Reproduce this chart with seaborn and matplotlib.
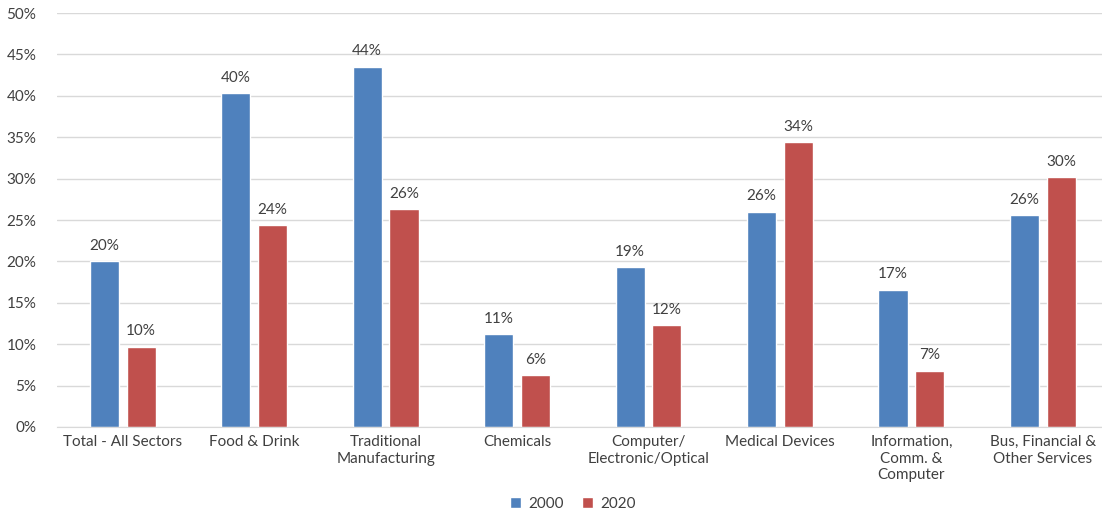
import matplotlib
matplotlib.use("Agg")
import matplotlib.pyplot as plt
import seaborn as sns
import pandas as pd
from matplotlib.ticker import PercentFormatter
from matplotlib.patches import Patch

categories = ["Total - All Sectors", "Food & Drink", "Traditional\nManufacturing",
              "Chemicals", "Computer/\nElectronic/Optical", "Medical Devices",
              "Information,\nComm. &\nComputer", "Bus, Financial &\nOther Services"]
values_2000 = [20.0, 40.3, 43.5, 11.2, 19.3, 26.0, 16.6, 25.6]
values_2020 = [9.7, 24.4, 26.3, 6.3, 12.3, 34.4, 6.8, 30.2]
series = ["2000", "2020"]
colors = ["#4F81BD", "#C0504D"]

df = pd.DataFrame({
    "Sector": categories * 2,
    "Year": ["2000"] * len(categories) + ["2020"] * len(categories),
    "Value": values_2000 + values_2020,
})

sns.set_style("white")
plt.rcParams["font.family"] = ["Lato", "DejaVu Sans"]

fig = plt.figure(figsize=(11.02, 5.12), dpi=100)
ax = fig.add_axes([57 / 1102, 1 - 427 / 512, 1 - 57 / 1102, (427 - 13) / 512])

sns.barplot(data=df, x="Sector", y="Value", hue="Year", order=categories,
            hue_order=series, palette=colors, width=0.56, gap=0.21,
            saturation=1, ax=ax, legend=False)

for cont in ax.containers:
    ax.bar_label(cont, labels=[f"{v:.0f}%" for v in cont.datavalues],
                 padding=6, fontsize=11, color="#404040")

ax.set_ylim(0, 50)
ax.set_yticks(range(0, 51, 5))
ax.yaxis.set_major_formatter(PercentFormatter(decimals=0))
ax.set_xlim(-0.5, 7.45)
ax.grid(axis="y", color="#D9D9D9", linewidth=1)
ax.set_axisbelow(True)
for s in ["top", "right", "left"]:
    ax.spines[s].set_visible(False)
ax.spines["bottom"].set_color("#D9D9D9")
ax.tick_params(axis="both", length=0, labelsize=11, labelcolor="#404040")
ax.tick_params(axis="y", pad=15)
ax.tick_params(axis="x", pad=6)
ax.set_xlabel("")
ax.set_ylabel("")

handles = [Patch(facecolor=c, label=s) for c, s in zip(colors, series)]
fig.legend(handles=handles, loc="center", bbox_to_anchor=(0.52, 0.016), ncol=2,
           frameon=False, fontsize=11, handlelength=0.7, handleheight=0.7,
           columnspacing=1.2, handletextpad=0.5, labelcolor="#404040")

fig.savefig("out.png", dpi=100)
